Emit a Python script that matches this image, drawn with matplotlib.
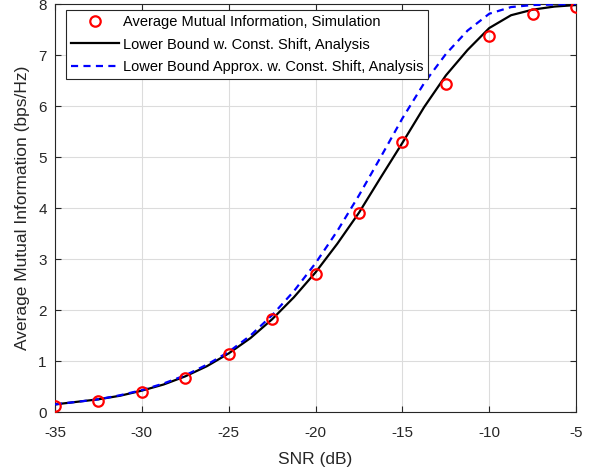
import numpy as np
import matplotlib
matplotlib.use("Agg")
import matplotlib.pyplot as plt

plt.rcParams['font.family'] = ['Liberation Sans', 'DejaVu Sans']
plt.rcParams['axes.unicode_minus'] = False

# Simulation points (every 2.5 dB)
snr_sim = [-35, -32.5, -30, -27.5, -25, -22.5, -20, -17.5, -15, -12.5, -10, -7.5, -5]
ami_sim = [0.12, 0.22, 0.39, 0.66, 1.14, 1.82, 2.71, 3.90, 5.29, 6.43, 7.37, 7.81, 7.94]

# Analysis curves (every 1.25 dB)
snr_ana = [-35, -33.75, -32.5, -31.25, -30, -28.75, -27.5, -26.25, -25, -23.75,
           -22.5, -21.25, -20, -18.75, -17.5, -16.25, -15, -13.75, -12.5, -11.25,
           -10, -8.75, -7.5, -6.25, -5]
lb_shift = [0.15, 0.20, 0.25, 0.32, 0.42, 0.54, 0.70, 0.90, 1.15, 1.45,
            1.82, 2.25, 2.74, 3.30, 3.91, 4.60, 5.28, 5.98, 6.60, 7.10,
            7.53, 7.78, 7.89, 7.95, 7.98]
lb_approx = [0.15, 0.20, 0.25, 0.33, 0.43, 0.56, 0.72, 0.93, 1.18, 1.50,
             1.90, 2.37, 2.92, 3.55, 4.25, 5.00, 5.76, 6.45, 7.02, 7.48,
             7.81, 7.94, 7.98, 7.99, 8.00]

fig = plt.figure(figsize=(5.95, 4.72), dpi=100)
ax = fig.add_axes([0.0924, 0.127, 0.876, 0.8645])

ax.plot(snr_sim, ami_sim, 'o', color='red', markerfacecolor='none',
        markersize=7.5, markeredgewidth=1.6,
        label='Average Mutual Information, Simulation', zorder=4)
ax.plot(snr_ana, lb_shift, '-', color='black', linewidth=1.6,
        label='Lower Bound w. Const. Shift, Analysis', zorder=3)
ax.plot(snr_ana, lb_approx, '--', color='blue', linewidth=1.6, dashes=(3.2, 2.4),
        label='Lower Bound Approx. w. Const. Shift, Analysis', zorder=3)

ax.set_xlim(-35, -5)
ax.set_ylim(0, 8)
ax.set_xticks(np.arange(-35, -4, 5))
ax.set_yticks(np.arange(0, 9, 1))
ax.grid(True, color='#dcdcdc', linewidth=0.8)
ax.set_axisbelow(True)
ax.tick_params(direction='in', length=4, labelsize=11, colors='#262626',
               top=True, right=True)
ax.tick_params(axis='x', pad=10)
ax.tick_params(axis='y', pad=6)
for s in ax.spines.values():
    s.set_color('#262626')
    s.set_linewidth(0.8)

ax.set_xlabel('SNR (dB)', fontsize=12.5, color='#262626', labelpad=9)
ax.set_ylabel('Average Mutual Information (bps/Hz)', fontsize=12.5,
              color='#262626', labelpad=6)

leg = ax.legend(loc='upper left', bbox_to_anchor=(0.021, 0.986), borderaxespad=0,
                fontsize=10.5, handlelength=3.3, handletextpad=0.25, borderpad=0.35,
                labelspacing=0.6, fancybox=False, framealpha=1, edgecolor='#262626')
leg.get_frame().set_linewidth(0.8)

fig.savefig('out.png', dpi=100)
